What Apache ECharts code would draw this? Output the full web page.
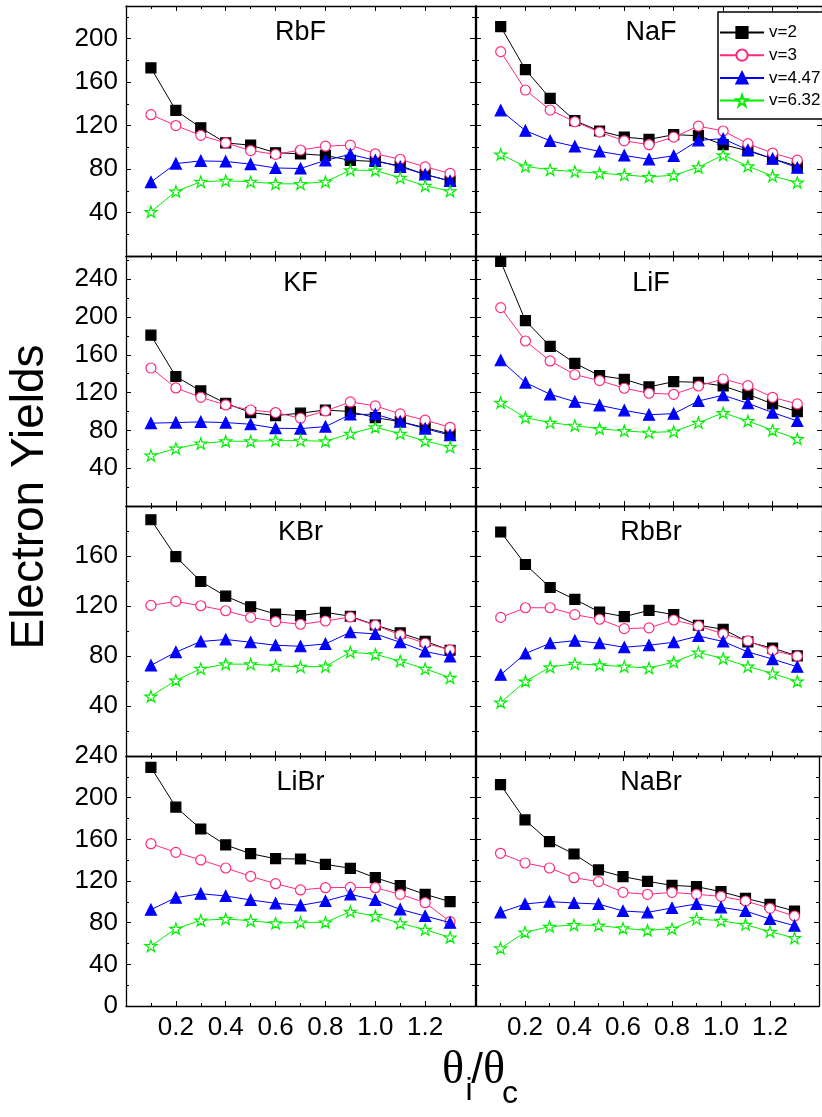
<!DOCTYPE html>
<html>
<head>
<meta charset="utf-8">
<script src="https://cdn.jsdelivr.net/npm/echarts@6/dist/echarts.min.js"></script>
<style>
  html, body { margin: 0; padding: 0; background: #fff; }
  #chart { width: 822px; height: 1117px; }
</style>
</head>
<body>
<div id="chart"></div>
<script>
// Incidence angle relative to the critical angle
const thetaRatio = [0.1, 0.2, 0.3, 0.4, 0.5, 0.6, 0.7, 0.8, 0.9, 1.0, 1.1, 1.2, 1.3];

// Electron yields per target, one array per projectile velocity v
const RbF_v2   = [173, 134, 118, 104, 102, 95, 94, 92.5, 88, 87, 83, 75, 69];
const RbF_v3   = [130, 120, 111, 104, 97, 93.5, 97.5, 101, 102, 94, 89, 82, 76];
const RbF_v447 = [68, 85, 87.5, 87, 84.5, 81, 80.5, 88, 93.5, 88, 82, 75, 69];
const RbF_v632 = [40.6, 59.4, 68.3, 69.2, 68.3, 66.4, 66.4, 68.3, 79, 78.7, 72, 64.6, 59.7];

const NaF_v2   = [211, 171.5, 145, 124.5, 115, 109.4, 107.3, 111.6, 110.7, 102.4, 96.8, 89.5, 82.7];
const NaF_v3   = [188, 152.7, 134.3, 123.5, 114, 106, 102.4, 109.4, 119.5, 115, 103.3, 94.7, 88.2];
const NaF_v447 = [134, 115.3, 106, 100.8, 96.2, 92.5, 88.9, 92.2, 106.4, 107.9, 97.5, 89.5, 81.2];
const NaF_v632 = [93.5, 82.4, 79.3, 77.7, 76.2, 74.6, 72.8, 74.3, 81.7, 92.8, 82.7, 73.5, 67.6];

const KF_v2   = [180.7, 137, 121.8, 108.7, 98.9, 95.7, 98.2, 101.6, 99.9, 93.5, 89.3, 82.9, 76.2];
const KF_v3   = [146, 124.9, 115, 106.9, 101.6, 98.9, 92.9, 100.6, 110.1, 105.9, 97.5, 90.8, 83.3];
const KF_v447 = [87.6, 88.3, 89, 88.3, 86.5, 82.3, 81.9, 84, 96.8, 97.1, 89.3, 81.9, 74.9];
const KF_v632 = [53.4, 60.8, 66.1, 68.5, 68.5, 69.2, 69.2, 68.5, 76.6, 83.3, 76.6, 68.9, 62.5];

const LiF_v2   = [258.7, 196.2, 169, 151, 138, 134.1, 126, 131.6, 130.9, 127, 118.2, 108, 99.9];
const LiF_v3   = [209.9, 174.6, 153.5, 139, 132.7, 124.6, 119.3, 118.2, 127, 134.4, 127.3, 115, 108];
const LiF_v447 = [154.2, 130.6, 118.2, 110.4, 106.5, 101.2, 96.6, 97.7, 111.1, 117.2, 108.7, 98.9, 90];
const LiF_v632 = [109.4, 93.5, 88.2, 85.1, 81.6, 79.5, 77.7, 78.8, 88.2, 98.5, 90, 80.2, 71];

const KBr_v2   = [189, 159.5, 139.6, 127.9, 119.4, 113.6, 112.3, 114.9, 111.8, 104.8, 98.5, 91.8, 84.6];
const KBr_v3   = [120.5, 123.7, 120.2, 116.2, 110.9, 107.5, 105.4, 108, 111.2, 104.6, 96.9, 90.2, 84.9];
const KBr_v447 = [72.5, 83.1, 91.6, 93.2, 91, 88.6, 87.8, 89.7, 99, 97.7, 91, 83.6, 79.6];
const KBr_v632 = [47.7, 60.5, 69.8, 73.5, 73.5, 72.2, 71.4, 71.6, 83.1, 81.4, 75.9, 69.8, 62.6];

const RbBr_v2   = [179.2, 153.2, 134.8, 125.3, 115.2, 111.5, 116.5, 113.1, 104.6, 101.4, 91.3, 86.3, 80.1];
const RbBr_v3   = [110.9, 118.6, 118.6, 113.1, 109.4, 101.9, 102.5, 108.8, 104, 97.7, 92.1, 84.4, 79.8];
const RbBr_v447 = [65, 82, 90.2, 92.3, 90.2, 87, 88.6, 91, 96, 91.6, 83.3, 77.5, 71.4];
const RbBr_v632 = [42.9, 59.7, 71.1, 73.8, 72.7, 71.6, 70.3, 75.1, 82.8, 78, 71.6, 66, 59.7];

const LiBr_v2   = [229.1, 191, 169.9, 154.6, 146.2, 141.4, 141.1, 136, 132.2, 123.2, 115.5, 107.2, 100.2];
const LiBr_v3   = [155.8, 147.5, 140.2, 132.5, 124.5, 117.4, 111.4, 113.6, 113.9, 113.6, 107.2, 99.2, 81];
const LiBr_v447 = [92.5, 104, 107.8, 105.6, 101.8, 98.6, 96.6, 100.8, 107.2, 101.8, 92.8, 86.4, 80];
const LiBr_v632 = [57.6, 74.2, 82.2, 83.5, 81.9, 79.4, 80.3, 80.3, 90.6, 86.4, 79.4, 73.3, 65.9];

const NaBr_v2   = [212.5, 178.6, 157.8, 145.9, 130.6, 124.2, 119.7, 115.8, 114.6, 109.8, 103.4, 97.6, 91.2];
const NaBr_v3   = [146.6, 137.3, 132.5, 123.2, 119.4, 109.1, 107.2, 109.1, 107.2, 105.3, 100.8, 93.8, 86.4];
const NaBr_v447 = [89.9, 97.9, 100.2, 98.9, 97.9, 91.2, 89.9, 94.1, 97.9, 94.7, 91.2, 83.5, 77.1];
const NaBr_v632 = [55.4, 70.7, 76.2, 77.8, 77.4, 74.6, 72.6, 74.2, 83.5, 81.9, 78.1, 71.4, 65.3];

const panelNames = ['RbF', 'NaF', 'KF', 'LiF', 'KBr', 'RbBr', 'LiBr', 'NaBr'];
const seriesNames = ['v=2', 'v=3', 'v=4.47', 'v=6.32'];
const panelData = [
  [RbF_v2, RbF_v3, RbF_v447, RbF_v632],
  [NaF_v2, NaF_v3, NaF_v447, NaF_v632],
  [KF_v2, KF_v3, KF_v447, KF_v632],
  [LiF_v2, LiF_v3, LiF_v447, LiF_v632],
  [KBr_v2, KBr_v3, KBr_v447, KBr_v632],
  [RbBr_v2, RbBr_v3, RbBr_v447, RbBr_v632],
  [LiBr_v2, LiBr_v3, LiBr_v447, LiBr_v632],
  [NaBr_v2, NaBr_v3, NaBr_v447, NaBr_v632]
];
// y-axis maximum of each row, and the largest labelled value / whether 0 is labelled
const rowYMax = [230, 264, 200, 240];
const rowLabelMax = [200, 240, 160, 240];
const rowShowZero = [false, false, false, true];

const FONT = 'Arial, "Liberation Sans", Helvetica, sans-serif';
const SERIF = '"Liberation Serif", "Times New Roman", serif';
const starPath = 'path://M50,0 L61.8,35.1 L98.9,35.1 L68.9,56.8 L80.2,91.9 L50,70.2 L19.8,91.9 L31.1,56.8 L1.1,35.1 L38.2,35.1 Z';

const styles = [
  { color: '#000000', symbol: 'rect', size: 10, fill: '#000000' },
  { color: '#ff2a7f', symbol: 'circle', size: 10, fill: '#ffffff' },
  { color: '#0000ff', symbol: 'triangle', size: 11, fill: '#0000ff' },
  { color: '#00f000', symbol: starPath, size: 12, fill: '#ffffff' }
];

const colLeft = [126, 476];
const colWidth = [349, 350];
const rowTop = [6, 256.5, 506, 756];
const rowHeight = [250, 249.5, 250, 250];

const grids = [], xAxes = [], yAxes = [], series = [], graphics = [];

const axisLine = { show: true, onZero: false, lineStyle: { color: '#000', width: 1.3 } };
const tickMajor = { show: true, inside: true, length: 5, lineStyle: { color: '#000', width: 1 } };
const tickMinor = { show: true, splitNumber: 2, length: 3, lineStyle: { color: '#000', width: 1 } };

for (let i = 0; i < 8; i++) {
  const row = Math.floor(i / 2), col = i % 2;
  grids.push({ left: colLeft[col], top: rowTop[row], width: colWidth[col], height: rowHeight[row], containLabel: false });

  const bottomRow = row === 3;
  xAxes.push({
    type: 'value', gridIndex: i, position: 'bottom', min: 0, max: 1.4, interval: 0.2,
    axisLine, axisTick: tickMajor, minorTick: tickMinor, splitLine: { show: false },
    axisLabel: {
      show: bottomRow, margin: 9, fontSize: 26, color: '#000', fontFamily: FONT,
      formatter: v => (v > 0.05 && v < 1.35) ? v.toFixed(1) : ''
    }
  });
  xAxes.push({
    type: 'value', gridIndex: i, position: 'top', min: 0, max: 1.4, interval: 0.2,
    axisLine, axisTick: tickMajor, minorTick: tickMinor, splitLine: { show: false },
    axisLabel: { show: false }
  });

  const lblMax = rowLabelMax[row], showZero = rowShowZero[row];
  yAxes.push({
    type: 'value', gridIndex: i, position: 'left', min: 0, max: rowYMax[row], interval: 40,
    axisLine, axisTick: tickMajor, minorTick: tickMinor, splitLine: { show: false },
    axisLabel: {
      show: col === 0, margin: 8, fontSize: 26, color: '#000', fontFamily: FONT,
      formatter: v => ((v === 0 && !showZero) || v > lblMax || v % 40 !== 0) ? '' : String(v)
    }
  });
  yAxes.push({
    type: 'value', gridIndex: i, position: 'right', min: 0, max: rowYMax[row], interval: 40,
    axisLine, axisTick: tickMajor, minorTick: tickMinor, splitLine: { show: false },
    axisLabel: { show: false }
  });

  panelData[i].forEach((vals, k) => {
    const st = styles[k];
    series.push({
      name: seriesNames[k], type: 'line',
      xAxisIndex: 2 * i, yAxisIndex: 2 * i,
      data: thetaRatio.map((t, j) => [t, vals[j]]),
      symbol: st.symbol, symbolSize: st.size, symbolKeepAspect: true,
      showAllSymbol: true,
      lineStyle: { color: st.color, width: 1 },
      itemStyle: { color: st.fill, borderColor: st.color, borderWidth: 1.2 },
      emphasis: { disabled: true },
      z: 2 + k
    });
  });

  // panel label
  graphics.push({
    type: 'text', z: 10,
    x: colLeft[col] + colWidth[col] / 2,
    y: rowTop[row] + 27,
    style: { text: panelNames[i], fontSize: 27, fontFamily: FONT, fill: '#000', align: 'center', verticalAlign: 'middle' }
  });
}

// Axis titles
graphics.push({
  type: 'text', x: 30, y: 497, rotation: Math.PI / 2,
  style: { text: 'Electron Yields', fontSize: 46, fontFamily: FONT, fill: '#000', align: 'center', verticalAlign: 'middle' }
});
graphics.push({
  type: 'text', x: 453, y: 1071,
  style: { text: 'θ', fontSize: 46, fontFamily: SERIF, fill: '#000', align: 'center', verticalAlign: 'middle' }
});
graphics.push({
  type: 'text', x: 469, y: 1091,
  style: { text: 'i', fontSize: 32, fontFamily: FONT, fill: '#000', align: 'center', verticalAlign: 'middle' }
});
graphics.push({
  type: 'text', x: 477, y: 1071,
  style: { text: '/', fontSize: 42, fontFamily: FONT, fill: '#000', align: 'center', verticalAlign: 'middle' }
});
graphics.push({
  type: 'text', x: 494, y: 1071,
  style: { text: 'θ', fontSize: 46, fontFamily: SERIF, fill: '#000', align: 'center', verticalAlign: 'middle' }
});
graphics.push({
  type: 'text', x: 510, y: 1094,
  style: { text: 'c', fontSize: 32, fontFamily: FONT, fill: '#000', align: 'center', verticalAlign: 'middle' }
});

const chart = echarts.init(document.getElementById('chart'), null, { renderer: 'canvas' });
chart.setOption({
  animation: false,
  backgroundColor: '#ffffff',
  grid: grids,
  xAxis: xAxes,
  yAxis: yAxes,
  legend: {
    data: seriesNames,
    orient: 'vertical',
    left: 718, top: 12,
    padding: [12, 60, 10, 1],
    itemWidth: 44, itemHeight: 14, itemGap: 5.7,
    backgroundColor: '#ffffff',
    borderColor: '#000', borderWidth: 1.5,
    textStyle: { fontSize: 17, lineHeight: 14, fontFamily: FONT, color: '#000' },
    selectedMode: false,
    z: 20
  },
  series: series,
  graphic: graphics
});
</script>
</body>
</html>
